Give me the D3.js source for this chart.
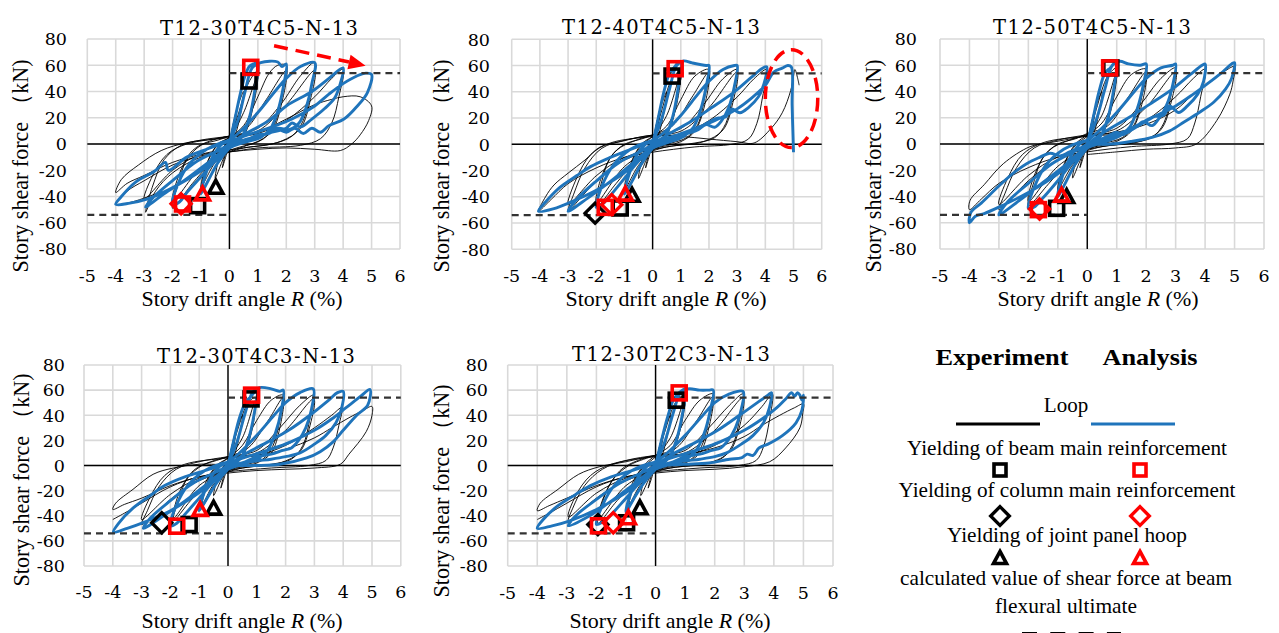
<!DOCTYPE html>
<html>
<head>
<meta charset="utf-8">
<script src="https://cdn.jsdelivr.net/npm/d3@7"></script>
<style>
  body { margin: 0; background: #fff; }
  text { font-family: "Liberation Serif", "Times New Roman", serif; fill: #000; }
  .tick, .ttl { font-family: "DejaVu Serif", serif; }
</style>
</head>
<body>
<div id="chart"></div>
<script>
// ticks
const xTicks = [-5, -4, -3, -2, -1, 0, 1, 2, 3, 4, 5, 6];
const yTicks = [-80, -60, -40, -20, 0, 20, 40, 60, 80];
const titles = ["T12-30T4C5-N-13", "T12-40T4C5-N-13", "T12-50T4C5-N-13", "T12-30T4C3-N-13", "T12-30T2C3-N-13"];
const ultimateShear = [54, 54, 54, 54, 54];

// experiment loops (black), [R %, V kN]
const exp1 = [[0,0],[0.12,14],[0.25,24],[0.15,10],[0,1],[-0.12,-9],[-0.25,-18],[-0.12,-6],[0,1],
  [0.25,26],[0.5,40],[0.4,24],[0.2,7],[0,0],[-0.25,-13],[-0.5,-26],[-0.38,-12],[-0.2,-2],[0,3],
  [0.3,22],[0.68,47],[1.0,56],[0.85,34],[0.6,12],[0.3,2],[0,-4],[-0.5,-18],[-1.0,-36],[-0.85,-20],[-0.6,-6],[-0.3,1],[0,5],
  [0.5,24],[1.0,53],[0.85,30],[0.5,6],[0,-4],[-0.5,-14],[-1.0,-33],[-0.8,-15],[-0.4,0],[0,5],
  [0.5,14],[1.0,36],[1.4,54],[1.7,60],[2.0,60],[1.85,38],[1.6,16],[1.2,4],[0.5,-2],[0,-6],[-0.7,-16],[-1.3,-30],[-2.0,-49],[-1.8,-30],[-1.5,-12],[-1.0,-1],[-0.4,3],[0,6],
  [0.6,12],[1.3,34],[2.0,56],[1.85,32],[1.5,10],[1.0,2],[0,-5],[-1.0,-18],[-2.0,-44],[-1.8,-25],[-1.3,-5],[-0.6,3],[0,6],
  [1.0,12],[1.8,30],[2.5,52],[2.98,62],[2.85,40],[2.6,18],[2.2,6],[1.5,0],[0.5,-3],[0,-6],[-1.0,-10],[-2.0,-22],[-2.6,-36],[-2.95,-52],[-2.7,-32],[-2.3,-12],[-1.7,-1],[-1.0,3],[0,6],
  [1.0,10],[2.0,30],[3.0,56],[2.85,34],[2.5,12],[1.8,2],[0.5,-3],[-1.0,-8],[-2.0,-20],[-3.0,-42],[-2.7,-24],[-2.2,-8],[-1.5,0],[0,5],
  [1.0,8],[2.0,18],[3.0,36],[3.6,50],[4.0,57],[3.85,36],[3.6,16],[3.2,4],[2.5,-1],[1.0,-3],[0,-6],[-1.0,-8],[-2.0,-14],[-3.0,-24],[-3.6,-30],[-4.0,-37],[-3.8,-27],[-3.2,-16],[-2.4,-5],[-1.5,1],[-0.5,4],[0,6],
  [1.0,9],[2.0,19],[3.0,30],[3.6,34],[4.0,36],[4.6,36],[5.0,29],[4.9,18],[4.6,7],[4.3,0],[3.9,-5],[3.0,-4],[2.0,-3],[1.0,-4],[0,-6],[-1.0,-9],[-2.0,-16],[-3.0,-28],[-3.6,-36],[-4.0,-46],[-3.4,-44],[-2.6,-38]];
const exp2 = [[0,0],[0.12,14],[0.25,24],[0.15,10],[0,1],[-0.12,-9],[-0.25,-18],[-0.12,-6],[0,1],
  [0.25,26],[0.5,40],[0.4,24],[0.2,7],[0,0],[-0.25,-13],[-0.5,-26],[-0.38,-12],[-0.2,-2],[0,3],
  [0.3,24],[0.69,50],[1.0,56],[0.85,34],[0.6,12],[0.3,3],[0,-3],[-0.5,-20],[-1.0,-38],[-0.85,-22],[-0.6,-7],[-0.3,1],[0,6],
  [0.5,22],[1.0,54],[0.85,30],[0.5,7],[0,-4],[-0.5,-16],[-1.0,-35],[-0.8,-16],[-0.4,0],[0,6],
  [0.5,14],[1.0,34],[1.5,52],[2.0,57],[1.85,36],[1.6,15],[1.2,5],[0.5,0],[0,-4],[-0.7,-15],[-1.3,-30],[-2.0,-48],[-1.8,-28],[-1.5,-10],[-1.0,0],[-0.4,4],[0,7],
  [0.7,14],[1.4,36],[2.0,55],[1.85,30],[1.5,10],[1.0,2],[0,-4],[-1.0,-17],[-2.0,-45],[-1.8,-24],[-1.3,-5],[-0.6,3],[0,7],
  [1.0,12],[1.8,30],[2.5,50],[3.0,57],[2.85,38],[2.6,16],[2.2,5],[1.5,1],[0.5,-2],[0,-5],[-1.0,-12],[-2.0,-28],[-2.6,-42],[-3.0,-51],[-2.8,-38],[-2.4,-18],[-1.8,-3],[-1.0,3],[0,7],
  [1.0,10],[2.0,28],[3.0,55],[2.85,32],[2.5,11],[1.8,2],[0.5,-2],[-1.0,-10],[-2.0,-24],[-3.0,-46],[-2.7,-26],[-2.2,-8],[-1.5,1],[0,6],
  [1.0,8],[2.0,18],[3.0,36],[3.6,50],[4.05,57],[3.9,36],[3.7,16],[3.4,4],[2.8,0],[1.5,-2],[0,-6],[-1.0,-10],[-2.0,-18],[-3.0,-30],[-3.6,-42],[-4.05,-51],[-3.8,-40],[-3.5,-31],[-3.0,-22],[-2.4,-12],[-1.86,-2],[-1.15,2],[0,7],
  [1.0,6],[2.0,4],[3.0,2],[3.6,1],[4.2,12],[4.6,24],[4.9,41],[5.0,52],[5.05,57],[5.15,50],[5.2,45]];
const exp3 = [[0,0],[0.12,14],[0.25,24],[0.15,10],[0,1],[-0.12,-9],[-0.25,-18],[-0.12,-6],[0,1],
  [0.25,26],[0.5,40],[0.4,24],[0.2,7],[0,0],[-0.25,-13],[-0.5,-26],[-0.38,-12],[-0.2,-2],[0,3],
  [0.3,26],[0.7,52],[1.0,58],[0.85,34],[0.6,12],[0.3,3],[0,-3],[-0.5,-20],[-1.0,-38],[-0.85,-22],[-0.6,-7],[-0.3,1],[0,6],
  [0.5,22],[1.0,55],[0.85,30],[0.5,7],[0,-4],[-0.5,-16],[-1.0,-35],[-0.8,-16],[-0.4,0],[0,7],
  [0.5,16],[1.0,36],[1.5,53],[2.0,57],[1.85,36],[1.6,15],[1.2,5],[0.5,0],[0,-4],[-0.7,-15],[-1.3,-30],[-2.0,-47],[-1.8,-28],[-1.5,-10],[-1.0,0],[-0.4,4],[0,8],
  [0.7,14],[1.4,36],[2.0,55],[1.85,30],[1.5,10],[1.0,2],[0,-4],[-1.0,-17],[-2.0,-44],[-1.8,-24],[-1.3,-5],[-0.6,3],[0,7],
  [1.0,12],[1.8,30],[2.5,50],[3.0,58],[2.85,38],[2.6,16],[2.2,5],[1.5,1],[0.5,-2],[0,-5],[-1.0,-12],[-2.0,-28],[-2.6,-42],[-3.0,-50],[-2.8,-38],[-2.4,-18],[-1.8,-3],[-1.0,3],[0,7],
  [1.0,10],[2.0,28],[3.0,55],[2.85,32],[2.5,11],[1.8,2],[0.5,-2],[-1.0,-10],[-2.0,-24],[-3.0,-46],[-2.7,-26],[-2.2,-8],[-1.5,1],[0,6],
  [1.0,8],[2.0,18],[3.0,36],[3.6,50],[4.0,57],[3.85,36],[3.65,16],[3.4,4],[2.8,0],[1.5,-2],[0,-6],[-1.0,-10],[-2.0,-18],[-3.0,-30],[-3.6,-42],[-4.0,-50],[-3.98,-43],[-3.5,-31],[-2.85,-15],[-1.94,-2],[-1.27,1],[0,6],
  [1.0,9],[2.0,15],[3.0,26],[3.6,38],[4.2,48],[4.7,56],[5.0,59],[4.95,48],[4.84,38],[4.4,18],[3.7,0],[3.0,-3],[2.0,-4],[1.0,-6],[0,-8]];
const exp4 = [[0,0],[0.12,14],[0.25,24],[0.15,10],[0,1],[-0.12,-9],[-0.25,-18],[-0.12,-6],[0,1],
  [0.25,26],[0.5,40],[0.4,24],[0.2,7],[0,0],[-0.25,-12],[-0.5,-24],[-0.38,-11],[-0.2,-2],[0,3],
  [0.3,26],[0.7,50],[0.95,54],[0.85,34],[0.6,12],[0.3,3],[0,-3],[-0.5,-18],[-0.9,-33],[-0.8,-20],[-0.6,-7],[-0.3,1],[0,6],
  [0.5,22],[0.95,52],[0.85,30],[0.5,7],[0,-4],[-0.5,-15],[-0.9,-31],[-0.8,-15],[-0.4,0],[0,6],
  [0.5,16],[1.0,36],[1.5,52],[1.92,56],[1.8,36],[1.55,15],[1.2,5],[0.5,0],[0,-4],[-0.7,-14],[-1.3,-28],[-1.9,-44],[-1.7,-26],[-1.4,-10],[-0.9,0],[-0.4,4],[0,7],
  [0.7,14],[1.4,36],[1.92,54],[1.8,30],[1.5,10],[1.0,2],[0,-4],[-1.0,-16],[-1.9,-42],[-1.7,-22],[-1.2,-4],[-0.6,3],[0,7],
  [1.0,12],[1.8,30],[2.5,48],[2.98,56],[2.85,38],[2.6,16],[2.2,5],[1.5,1],[0.5,-2],[0,-5],[-1.0,-12],[-2.0,-27],[-2.6,-40],[-3.0,-47],[-2.8,-36],[-2.4,-17],[-1.8,-3],[-1.0,3],[0,7],
  [1.0,10],[2.0,28],[2.98,53],[2.85,32],[2.5,11],[1.8,2],[0.5,-2],[-1.0,-10],[-2.0,-23],[-3.0,-43],[-2.7,-25],[-2.2,-8],[-1.5,1],[0,6],
  [1.0,8],[2.0,16],[3.0,30],[3.6,40],[3.95,46],[3.85,32],[3.65,14],[3.4,4],[2.8,0],[1.5,-2],[0,-5],[-1.0,-9],[-2.0,-16],[-3.0,-26],[-3.6,-31],[-4.0,-35],[-3.9,-30],[-3.3,-19],[-2.6,-7],[-1.9,-2],[-1.0,1],[0,2],[0.05,6],
  [1.0,8],[2.0,13],[3.0,22],[3.6,30],[4.2,38],[4.7,44],[5.0,47],[5.0,40],[4.8,27],[4.2,9],[3.9,1],[3.0,-2],[2.0,-3],[1.0,-4],[0,-6],[-1.0,-9],[-2.0,-17],[-3.0,-30],[-3.6,-38],[-4.0,-43]];
const exp5 = [[0,0],[0.12,14],[0.25,24],[0.15,10],[0,1],[-0.12,-9],[-0.25,-18],[-0.12,-6],[0,1],
  [0.25,26],[0.5,40],[0.4,24],[0.2,7],[0,0],[-0.25,-12],[-0.5,-24],[-0.38,-11],[-0.2,-2],[0,3],
  [0.3,26],[0.7,51],[1.0,56],[0.85,34],[0.6,12],[0.3,3],[0,-3],[-0.5,-18],[-0.9,-33],[-0.8,-20],[-0.6,-7],[-0.3,1],[0,7],
  [0.5,22],[1.0,54],[0.85,30],[0.5,7],[0,-4],[-0.5,-15],[-0.9,-31],[-0.8,-15],[-0.4,0],[0,8],
  [0.5,16],[1.0,36],[1.5,52],[1.95,57],[1.8,36],[1.55,15],[1.2,5],[0.5,0],[0,-4],[-0.7,-14],[-1.3,-28],[-1.95,-46],[-1.75,-26],[-1.4,-10],[-0.9,0],[-0.4,5],[0,8],
  [0.7,14],[1.4,36],[1.95,55],[1.8,30],[1.5,10],[1.0,2],[0,-4],[-1.0,-16],[-1.95,-43],[-1.7,-22],[-1.2,-4],[-0.6,4],[0,8],
  [1.0,12],[1.8,30],[2.5,48],[2.96,57],[2.85,38],[2.6,16],[2.2,5],[1.5,1],[0.5,-2],[0,-5],[-1.0,-12],[-2.0,-26],[-2.6,-38],[-2.95,-44],[-2.8,-34],[-2.4,-16],[-1.8,-3],[-1.0,4],[0,8],
  [1.0,10],[2.0,28],[2.96,54],[2.85,32],[2.5,11],[1.8,2],[0.5,-2],[-1.0,-10],[-2.0,-22],[-2.95,-41],[-2.7,-24],[-2.2,-8],[-1.5,1],[0,7],
  [1.0,8],[2.0,16],[3.0,32],[3.6,47],[3.95,57],[3.85,36],[3.65,15],[3.4,4],[2.8,0],[1.5,-2],[0,-5],[-1.0,-9],[-2.0,-16],[-3.0,-26],[-3.6,-32],[-4.0,-36],[-3.9,-30],[-3.3,-19],[-2.6,-7],[-1.9,-1],[-1.0,3],[0,8],
  [1.0,9],[2.0,14],[3.0,23],[3.6,32],[4.2,40],[4.7,46],[5.0,49],[4.98,42],[4.88,30],[4.4,14],[3.86,3],[3.0,-1],[2.0,-3],[1.0,-4],[0,-6],[-1.0,-9],[-2.0,-17],[-3.0,-30],[-3.6,-38],[-4.0,-43]];

// analysis loops (blue), [R %, V kN]
const ana1 = [[0,0],[0.2,20],[0.4,40],[0.55,52],[0.7,59],[0.85,61],[1.0,62],[0.9,42],[0.7,20],[0.45,6],[0.2,1],[0,-3],[-0.4,-14],[-0.75,-28],[-1.0,-38],[-0.85,-24],[-0.55,-8],[-0.2,1],[0,3],
  [0.3,18],[0.55,40],[0.8,58],[1.1,62],[1.7,62.5],[1.85,59],[2.0,61],[1.9,44],[1.7,25],[1.45,12],[1.1,5],[0.5,1],[0,-3],[-0.5,-13],[-1.0,-25],[-1.5,-37],[-1.75,-44],[-2.0,-46],[-1.8,-30],[-1.4,-15],[-0.8,-4],[-0.3,1],[0,3],
  [0.4,10],[1.0,24],[1.6,40],[2.0,50],[2.5,59],[3.0,62],[2.9,46],[2.7,28],[2.45,16],[2.1,11],[1.7,12],[1.4,8],[1.0,7],[0.6,3],[0,-2],[-0.8,-15],[-1.6,-28],[-2.3,-38],[-2.95,-48],[-2.65,-40],[-1.95,-27],[-1.13,-13],[-0.3,-4],[0,0],
  [0.5,7],[1.4,18],[2.0,29],[2.9,40],[3.5,50],[4.0,58],[3.9,46],[3.7,35],[3.35,27],[2.9,19],[2.5,13],[2.2,16],[2.0,12],[1.5,9],[0.8,4],[0,-2],[-0.9,-19],[-2.06,-34],[-2.9,-42],[-3.5,-45],[-4.0,-46],[-3.8,-40],[-3.3,-29],[-2.65,-21],[-2.25,-14],[-2.15,-20],[-1.5,-10],[-0.8,-4],[0,2],
  [0.8,8],[1.5,13],[2.2,19],[3.0,29],[3.5,38],[4.0,46],[4.5,52],[4.8,54],[5.0,53],[4.85,39],[4.5,29],[4.03,19],[3.5,14],[3.2,9],[2.9,12],[2.6,8],[2.3,12],[2.0,9],[1.6,12],[1.3,8],[1.0,6],[0.5,3],[0,0]];
const ana2 = [[0,0],[0.2,20],[0.4,40],[0.6,54],[0.78,59],[0.9,62],[1.0,63],[0.9,42],[0.7,20],[0.45,6],[0.2,1],[0,-3],[-0.4,-15],[-0.75,-29],[-1.0,-38],[-0.85,-24],[-0.55,-8],[-0.2,1],[0,3],
  [0.3,18],[0.6,42],[0.85,60],[1.1,63.5],[1.4,62],[1.9,60],[2.0,60],[1.9,44],[1.7,26],[1.45,13],[1.1,6],[0.5,1],[0,-3],[-0.5,-13],[-1.0,-26],[-1.5,-39],[-1.8,-46],[-2.0,-48],[-1.8,-32],[-1.4,-16],[-0.8,-4],[-0.3,1],[0,3],
  [0.4,9],[1.0,22],[1.6,38],[2.0,48],[2.5,57],[2.9,60],[3.0,60],[2.9,44],[2.7,28],[2.45,18],[2.2,13],[1.9,15],[1.6,11],[1.2,8],[0.6,3],[0,-2],[-0.8,-16],[-1.6,-30],[-2.3,-41],[-3.0,-51],[-2.7,-42],[-2.0,-28],[-1.2,-14],[-0.3,-4],[0,0],
  [0.5,7],[1.4,18],[2.1,28],[2.9,40],[3.5,51],[3.9,58],[4.05,59],[3.95,46],[3.75,36],[3.4,28],[3.1,24],[2.8,27],[2.6,21],[2.3,20],[2.0,17],[1.5,11],[0.8,5],[0,-2],[-0.9,-20],[-2.0,-35],[-2.9,-44],[-3.5,-49],[-4.05,-51],[-3.8,-44],[-3.3,-33],[-2.7,-24],[-2.2,-17],[-1.5,-10],[-0.8,-4],[0,2],
  [0.7,6],[1.5,12],[2.2,18],[3.0,27],[3.5,35],[4.0,45],[4.3,55],[4.6,58],[4.8,60],[4.92,59],[4.95,30],[5.0,-6]];
const ana3 = [[0,0],[0.2,20],[0.4,40],[0.6,54],[0.78,58],[0.9,61],[1.0,63],[0.9,42],[0.7,20],[0.45,6],[0.2,1],[0,-3],[-0.4,-15],[-0.75,-30],[-1.0,-40],[-0.85,-25],[-0.55,-9],[-0.2,1],[0,3],
  [0.3,18],[0.6,42],[0.85,60],[1.1,63],[1.4,61],[1.8,60],[2.0,61],[1.9,45],[1.7,27],[1.45,13],[1.1,6],[0.5,1],[0,-3],[-0.5,-14],[-1.0,-28],[-1.5,-41],[-1.8,-48],[-2.0,-49],[-1.8,-33],[-1.4,-16],[-0.8,-4],[-0.3,1],[0,3],
  [0.4,10],[1.0,24],[1.6,40],[2.0,50],[2.5,58],[2.9,60],[3.0,61],[2.9,45],[2.7,30],[2.45,20],[2.2,14],[1.9,17],[1.6,12],[1.2,9],[0.6,3],[0,-2],[-0.8,-17],[-1.6,-31],[-2.3,-43],[-3.0,-54],[-2.7,-44],[-2.0,-30],[-1.2,-15],[-0.3,-4],[0,0],
  [0.5,8],[1.4,20],[2.1,30],[2.9,42],[3.5,53],[3.9,60],[4.0,61],[3.95,48],[3.75,38],[3.4,29],[3.1,24],[2.8,29],[2.6,22],[2.3,21],[2.0,18],[1.5,12],[0.8,5],[0,-2],[-0.9,-21],[-2.0,-37],[-2.9,-47],[-3.5,-53],[-3.8,-55],[-4.0,-60],[-3.95,-52],[-3.6,-45],[-3.0,-32],[-2.5,-22],[-2.06,-15],[-1.6,-10],[-1.27,-7],[-0.9,-9],[-0.6,-6],[0,-1],
  [0.7,6],[1.0,9],[1.2,7],[1.45,10],[2.2,20],[3.0,29],[3.6,38],[4.2,48],[4.6,55],[4.9,61],[5.0,62],[4.9,50],[4.7,42],[4.3,32],[3.8,24],[3.3,17],[2.8,10],[2.2,5],[1.5,2],[0.8,0],[0,0]];
const ana4 = [[0,0],[0.2,20],[0.4,38],[0.6,50],[0.8,55],[1.0,60],[0.9,40],[0.7,20],[0.45,6],[0.2,1],[0,-3],[-0.4,-14],[-0.75,-27],[-1.0,-36],[-0.85,-23],[-0.55,-8],[-0.2,1],[0,3],
  [0.3,18],[0.6,42],[0.85,58],[1.1,62],[1.5,61],[1.8,59],[1.92,60],[1.85,44],[1.65,26],[1.4,13],[1.1,6],[0.5,1],[0,-3],[-0.5,-13],[-1.0,-26],[-1.5,-39],[-1.78,-46],[-2.0,-48],[-1.8,-32],[-1.4,-16],[-0.8,-4],[-0.3,1],[0,3],
  [0.4,10],[1.0,24],[1.6,40],[2.0,50],[2.5,58],[2.96,61],[2.9,45],[2.7,30],[2.45,20],[2.2,14],[1.9,12],[1.5,9],[1.0,7],[0.6,3],[0,-2],[-0.8,-16],[-1.6,-30],[-2.3,-41],[-2.94,-50],[-2.7,-42],[-2.0,-28],[-1.2,-14],[-0.3,-4],[0,0],
  [0.5,8],[1.4,19],[2.1,28],[2.9,41],[3.5,52],[3.8,58],[4.0,59],[3.95,46],[3.75,34],[3.4,24],[3.0,17],[2.5,10],[2.0,7],[1.5,5],[0.8,3],[0,-2],[-0.9,-20],[-2.0,-36],[-2.9,-45],[-3.5,-50],[-3.98,-53],[-3.8,-46],[-3.3,-34],[-2.7,-24],[-2.2,-16],[-1.5,-9],[-0.8,-4],[0,2],
  [0.8,8],[1.5,13],[2.2,19],[3.0,28],[3.6,37],[4.1,46],[4.6,55],[4.93,60.5],[4.85,48],[4.47,40],[4.0,28],[3.66,19],[3.2,11],[2.73,6],[1.8,1],[1.0,0],[0,0]];
const ana5 = [[0,0],[0.2,20],[0.4,38],[0.6,52],[0.8,58],[1.0,61],[0.9,40],[0.7,20],[0.45,6],[0.2,1],[0,-3],[-0.4,-14],[-0.75,-27],[-1.0,-37],[-0.85,-23],[-0.55,-8],[-0.2,1],[0,3],
  [0.3,18],[0.6,42],[0.85,58],[1.1,61],[1.5,60],[1.8,60],[1.95,60],[1.85,44],[1.65,26],[1.4,13],[1.1,6],[0.5,1],[0,-3],[-0.5,-13],[-1.0,-26],[-1.5,-39],[-1.8,-45],[-2.0,-47],[-1.8,-32],[-1.4,-16],[-0.8,-4],[-0.3,1],[0,3],
  [0.4,10],[1.0,24],[1.6,40],[2.0,50],[2.5,57],[2.96,59],[2.9,45],[2.7,30],[2.45,20],[2.2,14],[1.9,12],[1.5,9],[1.0,7],[0.6,3],[0,-2],[-0.8,-16],[-1.6,-30],[-2.3,-41],[-2.95,-48],[-2.7,-40],[-2.0,-27],[-1.2,-14],[-0.3,-4],[0,0],
  [0.5,8],[1.4,19],[2.1,28],[2.9,41],[3.5,51],[3.8,56],[3.92,58],[3.85,46],[3.65,34],[3.3,24],[2.9,17],[2.4,10],[2.0,7],[1.5,5],[0.8,3],[0,-2],[-0.9,-20],[-2.0,-35],[-2.9,-44],[-3.5,-48],[-4.0,-50],[-3.8,-43],[-3.3,-32],[-2.7,-23],[-2.2,-16],[-1.5,-9],[-0.8,-4],[0,2],
  [0.8,8],[1.5,13],[2.2,19],[3.0,28],[3.6,37],[4.1,46],[4.4,53],[4.6,58],[4.7,55],[4.8,58],[4.88,56],[4.95,52],[5.0,56],[4.95,44],[4.75,34],[4.3,24],[3.8,17],[3.5,14],[3.3,8],[3.1,9],[2.9,6],[2.5,5],[1.8,2],[1.0,1],[0,0]];

// yielding markers: [shape, who, R, V]  (sq = beam bar, di = column bar, tri = joint hoop; k = experiment, r = analysis)
const marks1 = [["sq","k",0.69,48],["sq","k",-1.12,-47],["tri","k",-0.48,-33],["sq","r",0.75,58.4],["sq","r",-1.65,-45.7],["di","r",-1.7,-45.5],["tri","r",-0.95,-38]];
const marks2 = [["sq","k",0.69,52],["sq","k",-1.15,-48.5],["di","k",-2.04,-52.5],["tri","k",-0.73,-38.8],["sq","r",0.8,57.6],["sq","r",-1.68,-48],["di","r",-1.45,-46],["tri","r",-0.97,-38]];
const marks3 = [["sq","k",0.8,58],["sq","k",-1.04,-49],["tri","k",-0.7,-40],["sq","r",0.76,58],["sq","r",-1.66,-50],["di","r",-1.62,-49.5],["tri","r",-0.87,-39]];
const marks4 = [["sq","k",0.8,53],["sq","k",-1.35,-47],["di","k",-2.3,-45.6],["tri","k",-0.5,-34],["sq","r",0.82,56],["sq","r",-1.78,-48.3],["tri","r",-0.97,-35]];
const marks5 = [["sq","k",0.7,52],["sq","k",-0.98,-45.6],["di","k",-1.95,-47],["tri","k",-0.53,-33.7],["sq","r",0.8,57.8],["sq","r",-1.93,-48],["di","r",-1.43,-45.6],["tri","r",-0.92,-41.6]];

// annotations
const trendArrow = [[1.57, 74.9], [4.79, 59.7]];
const failureEllipse = { R: 4.93, V: 34.8, dR: 0.93, dV: 37.3 };

const W = 1279, H = 633;
const BLUE = "#1f74bb";
const svg = d3.select("#chart").append("svg").attr("width", W).attr("height", H);

const layout = [
  { l: 87.3, r: 400, t: 39, b: 249, title: [259, 35], xlab: [242, 306], ylab: [21, 166], tickX: 67, tickY: 282 },
  { l: 511.7, r: 821.7, t: 39.3, b: 249.3, title: [661, 34], xlab: [666, 306], ylab: [442, 166], tickX: 490, tickY: 282 },
  { l: 940, r: 1264, t: 39, b: 249, title: [1092, 34], xlab: [1098, 306], ylab: [874, 166], tickX: 917, tickY: 282 },
  { l: 84, r: 400.8, t: 365, b: 566, title: [256, 363], xlab: [242, 628], ylab: [22, 480], tickX: 65, tickY: 598 },
  { l: 507.7, r: 833, t: 365, b: 566, title: [671, 361], xlab: [670, 628], ylab: [442, 491], tickX: 488, tickY: 599 }
];
const expData = [exp1, exp2, exp3, exp4, exp5];
const anaData = [ana1, ana2, ana3, ana4, ana5];
const markData = [marks1, marks2, marks3, marks4, marks5];

function drawMarker(g, shape, color, cx, cy, s) {
  const col = color === "r" ? "#ff0000" : "#000";
  if (shape === "sq") {
    g.append("rect").attr("x", cx - s / 2).attr("y", cy - s / 2).attr("width", s).attr("height", s)
      .attr("fill", "none").attr("stroke", col).attr("stroke-width", 3.6);
  } else if (shape === "di") {
    const d = s * 0.72;
    g.append("path").attr("d", `M${cx},${cy - d}L${cx + d},${cy}L${cx},${cy + d}L${cx - d},${cy}Z`)
      .attr("fill", "none").attr("stroke", col).attr("stroke-width", 3.3).attr("stroke-linejoin", "miter");
  } else {
    const h = s * 0.85;
    g.append("path").attr("d", `M${cx},${cy - h / 2 - 1}L${cx + s / 2},${cy + h / 2}L${cx - s / 2},${cy + h / 2}Z`)
      .attr("fill", "none").attr("stroke", col).attr("stroke-width", 3.6).attr("stroke-linejoin", "miter");
  }
}

layout.forEach((p, i) => {
  const x = d3.scaleLinear().domain([-5, 6]).range([p.l, p.r]);
  const y = d3.scaleLinear().domain([-80, 80]).range([p.b, p.t]);
  const g = svg.append("g");

  // grid
  g.append("g").selectAll("line").data(xTicks).join("line")
    .attr("x1", d => x(d)).attr("x2", d => x(d)).attr("y1", p.t).attr("y2", p.b)
    .attr("stroke", "#d9d9d9").attr("stroke-width", 1.6);
  g.append("g").selectAll("line").data(yTicks).join("line")
    .attr("x1", p.l).attr("x2", p.r).attr("y1", d => y(d)).attr("y2", d => y(d))
    .attr("stroke", "#d9d9d9").attr("stroke-width", 1.6);

  // zero axes
  g.append("line").attr("x1", x(0)).attr("x2", x(0)).attr("y1", p.t).attr("y2", p.b)
    .attr("stroke", "#000").attr("stroke-width", 1.4);
  g.append("line").attr("x1", p.l).attr("x2", p.r).attr("y1", y(0)).attr("y2", y(0))
    .attr("stroke", "#000").attr("stroke-width", 1.4);

  // tick labels
  g.append("g").selectAll("text").data(yTicks).join("text").attr("class", "tick")
    .attr("x", p.tickX).attr("y", d => y(d)).attr("dy", "0.36em")
    .attr("text-anchor", "end").attr("font-size", 17.5).text(d => d);
  g.append("g").selectAll("text").data(xTicks).join("text").attr("class", "tick")
    .attr("x", d => x(d)).attr("y", p.tickY)
    .attr("text-anchor", "middle").attr("font-size", 17.5).text(d => d);

  const line = d3.line().x(d => x(d[0])).y(d => y(d[1])).curve(d3.curveCatmullRom.alpha(0.5));

  // experiment (black) then analysis (blue)
  g.append("path").datum(expData[i]).attr("d", line)
    .attr("fill", "none").attr("stroke", "#000").attr("stroke-width", 0.9).attr("stroke-linejoin", "round");
  g.append("path").datum(anaData[i]).attr("d", line)
    .attr("fill", "none").attr("stroke", BLUE).attr("stroke-width", 2.9).attr("stroke-linejoin", "round");

  // flexural ultimate shear (dashed)
  const vu = ultimateShear[i];
  g.append("line").attr("x1", x(0)).attr("x2", p.r).attr("y1", y(vu)).attr("y2", y(vu))
    .attr("stroke", "#333").attr("stroke-width", 2.2).attr("stroke-dasharray", "7,5");
  g.append("line").attr("x1", p.l).attr("x2", x(0)).attr("y1", y(-vu)).attr("y2", y(-vu))
    .attr("stroke", "#333").attr("stroke-width", 2.2).attr("stroke-dasharray", "7,5");

  // markers: black first, red on top
  markData[i].filter(m => m[1] === "k").forEach(m => drawMarker(g, m[0], m[1], x(m[2]), y(m[3]), 14));
  markData[i].filter(m => m[1] === "r").forEach(m => drawMarker(g, m[0], m[1], x(m[2]), y(m[3]), 14));

  // title and axis labels
  g.append("text").attr("class", "ttl").attr("x", p.title[0]).attr("y", p.title[1]).attr("text-anchor", "middle")
    .attr("font-size", 19.5).attr("textLength", 198).attr("lengthAdjust", "spacing").text(titles[i]);
  const xl = g.append("text").attr("x", p.xlab[0]).attr("y", p.xlab[1]).attr("text-anchor", "middle")
    .attr("font-size", 21.5).attr("textLength", 201).attr("lengthAdjust", "spacingAndGlyphs");
  xl.append("tspan").text("Story drift angle ");
  xl.append("tspan").attr("font-style", "italic").text("R");
  xl.append("tspan").text(" (%)");
  g.append("text").attr("transform", `translate(${p.ylab[0] + 7},${p.ylab[1]}) rotate(-90)`)
    .attr("text-anchor", "middle").attr("font-size", 22.5)
    .attr("textLength", 213).attr("lengthAdjust", "spacingAndGlyphs")
    .text("Story shear force （kN)");

  // annotations
  if (i === 0) {
    const a0 = [x(trendArrow[0][0]), y(trendArrow[0][1])];
    const a1 = [x(trendArrow[1][0]), y(trendArrow[1][1])];
    const ang = Math.atan2(a1[1] - a0[1], a1[0] - a0[0]);
    const L = 17, Wd = 7.5;
    const bx = a1[0] - L * Math.cos(ang), by = a1[1] - L * Math.sin(ang);
    g.append("line").attr("x1", a0[0]).attr("y1", a0[1]).attr("x2", bx).attr("y2", by)
      .attr("stroke", "#ff0000").attr("stroke-width", 3.5).attr("stroke-dasharray", "14,8");
    g.append("path").attr("d", `M${a1[0]},${a1[1]}L${bx - Wd * Math.sin(ang)},${by + Wd * Math.cos(ang)}L${bx + Wd * Math.sin(ang)},${by - Wd * Math.cos(ang)}Z`)
      .attr("fill", "#ff0000");
  }
  if (i === 1) {
    const e = failureEllipse;
    g.append("ellipse").attr("cx", x(e.R)).attr("cy", y(e.V))
      .attr("rx", x(e.R + e.dR) - x(e.R)).attr("ry", y(e.V) - y(e.V + e.dV))
      .attr("fill", "none").attr("stroke", "#ff0000").attr("stroke-width", 3.5).attr("stroke-dasharray", "13,7");
  }
});

// legend
const leg = svg.append("g");
const cx = 1067;
leg.append("text").attr("x", 1002).attr("y", 365).attr("text-anchor", "middle").attr("font-weight", "bold")
  .attr("font-size", 23).attr("textLength", 133).attr("lengthAdjust", "spacingAndGlyphs").text("Experiment");
leg.append("text").attr("x", 1150).attr("y", 365).attr("text-anchor", "middle").attr("font-weight", "bold")
  .attr("font-size", 23).attr("textLength", 95).attr("lengthAdjust", "spacingAndGlyphs").text("Analysis");
leg.append("text").attr("x", 1066).attr("y", 412).attr("text-anchor", "middle").attr("font-size", 21).text("Loop");
leg.append("line").attr("x1", 956).attr("x2", 1040).attr("y1", 424).attr("y2", 424).attr("stroke", "#000").attr("stroke-width", 3.2);
leg.append("line").attr("x1", 1091).attr("x2", 1175).attr("y1", 424).attr("y2", 424).attr("stroke", BLUE).attr("stroke-width", 3.2);

const legendRows = [
  { text: "Yielding of beam main reinforcement", y: 455, shape: "sq", my: 470, w: 320 },
  { text: "Yielding of column main reinforcement", y: 497, shape: "di", my: 516, w: 337 },
  { text: "Yielding of joint panel hoop", y: 542, shape: "tri", my: 558, w: 240 }
];
legendRows.forEach(r => {
  leg.append("text").attr("x", cx).attr("y", r.y).attr("text-anchor", "middle").attr("font-size", 21)
    .attr("textLength", r.w).attr("lengthAdjust", "spacingAndGlyphs").text(r.text);
  drawMarker(leg, r.shape, "k", 1000, r.my, r.shape === "sq" ? 12 : 13);
  drawMarker(leg, r.shape, "r", 1140, r.my, r.shape === "sq" ? 12 : 13);
});
leg.append("text").attr("x", 1066).attr("y", 585).attr("text-anchor", "middle").attr("font-size", 21)
  .attr("textLength", 332).attr("lengthAdjust", "spacingAndGlyphs")
  .text("calculated value of shear force at beam");
leg.append("text").attr("x", 1066).attr("y", 613).attr("text-anchor", "middle").attr("font-size", 21)
  .attr("textLength", 142).attr("lengthAdjust", "spacingAndGlyphs")
  .text("flexural ultimate");
leg.append("line").attr("x1", 1022).attr("x2", 1121).attr("y1", 634).attr("y2", 634)
  .attr("stroke", "#000").attr("stroke-width", 4).attr("stroke-dasharray", "15,13.3");
</script>
</body>
</html>
